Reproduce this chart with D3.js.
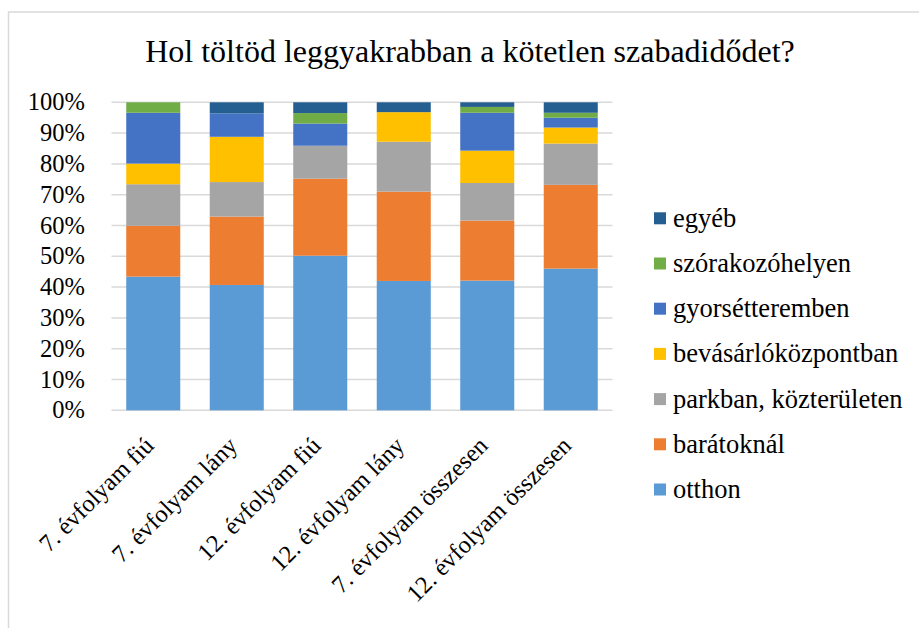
<!DOCTYPE html>
<html><head><meta charset="utf-8">
<script src="https://cdn.jsdelivr.net/npm/d3@7"></script>
<style>body{margin:0;background:#fff}svg{display:block}</style>
</head><body><svg id="c" width="919" height="628" style="font-family:'Liberation Serif','Times New Roman',serif"></svg>
<script>
const title = "Hol töltöd leggyakrabban a kötetlen szabadidődet?";
const categories = ["7. évfolyam fiú","7. évfolyam lány","12. évfolyam fiú","12. évfolyam lány","7. évfolyam összesen","12. évfolyam összesen"];
const seriesNames = ["otthon","barátoknál","parkban, közterületen","bevásárlóközpontban","gyorsétteremben","szórakozóhelyen","egyéb"];
const otthon      = [43.4, 40.7, 50.2, 42.0, 42.1, 46.0];
const baratoknal  = [16.5, 22.2, 25.0, 29.0, 19.5, 27.2];
const parkban     = [13.5, 11.2, 10.7, 16.2, 12.2, 13.4];
const bevasarlo   = [6.7, 14.7, 0.0, 9.6, 10.5, 5.2];
const gyorsetterem= [16.5, 7.6, 7.2, 0.0, 12.3, 3.2];
const szorakozo   = [3.4, 0.0, 3.4, 0.0, 1.9, 1.6];
const egyeb       = [0.0, 3.6, 3.5, 3.2, 1.5, 3.4];
const yTicks = [0,10,20,30,40,50,60,70,80,90,100];
const colors = ["#5B9BD5","#ED7D31","#A5A5A5","#FFC000","#4472C4","#70AD47","#255E91"];

const FONT = "'Liberation Serif','Times New Roman',serif";
const seriesValues = [otthon, baratoknal, parkban, bevasarlo, gyorsetterem, szorakozo, egyeb];
const rows = categories.map((c,i)=>{const r={cat:c}; seriesNames.forEach((s,j)=>r[s]=seriesValues[j][i]); return r;});
const stacked = d3.stack().keys(seriesNames).offset(d3.stackOffsetExpand)(rows);

const svg = d3.select("#c");
svg.append("rect").attr("x",8.5).attr("y",12).attr("width",940).attr("height",640)
  .attr("fill","none").attr("stroke","#d9d9d9").attr("stroke-width",1.5);

svg.append("text").attr("x",470).attr("y",62).attr("text-anchor","middle")
  .style("font-family",FONT).style("font-size","32px").style("fill","#000").text(title);

const x = d3.scaleBand().domain(categories).range([111.5,612.5]).paddingInner(0.353).paddingOuter(0.1765);
const y = d3.scaleLinear().domain([0,1]).range([410.3,102.3]);

const grid = svg.append("g");
grid.selectAll("line").data(yTicks).join("line")
  .attr("x1",111.5).attr("x2",612.5)
  .attr("y1",d=>y(d/100)).attr("y2",d=>y(d/100))
  .attr("stroke","#d9d9d9").attr("stroke-width",1.5);

const cmap = d3.scaleOrdinal().domain(seriesNames).range(colors);
svg.append("g").selectAll("g").data(stacked).join("g")
  .attr("fill",d=>cmap(d.key))
  .selectAll("rect").data(d=>d).join("rect")
  .attr("x",d=>x(d.data.cat)).attr("width",x.bandwidth())
  .attr("y",d=>y(d[1])).attr("height",d=>Math.max(0,y(d[0])-y(d[1])));

// y axis labels
svg.append("g").selectAll("text").data(yTicks).join("text")
  .attr("x",85).attr("y",d=>y(d/100)+8).attr("text-anchor","end")
  .style("font-family",FONT).style("font-size","24.5px").style("fill","#000").text(d=>d+"%");

// x axis labels
svg.append("g").selectAll("text").data(categories).join("text")
  .attr("text-anchor","end")
  .style("font-family",FONT).style("font-size","24.5px").style("fill","#000")
  .attr("transform",d=>`translate(${x(d)+x.bandwidth()/2+2},${447}) rotate(-45)`)
  .text(d=>d);

// legend
const leg = svg.append("g").selectAll("g").data(seriesNames.slice().reverse()).join("g")
  .attr("transform",(d,i)=>`translate(654,${218.3+i*45.2})`);
leg.append("rect").attr("x",0).attr("y",-6).attr("width",12).attr("height",12).attr("fill",d=>cmap(d));
leg.append("text").attr("x",19).attr("y",8.5)
  .style("font-family",FONT).style("font-size","26.5px").style("fill","#000").text(d=>d);
</script></body></html>
